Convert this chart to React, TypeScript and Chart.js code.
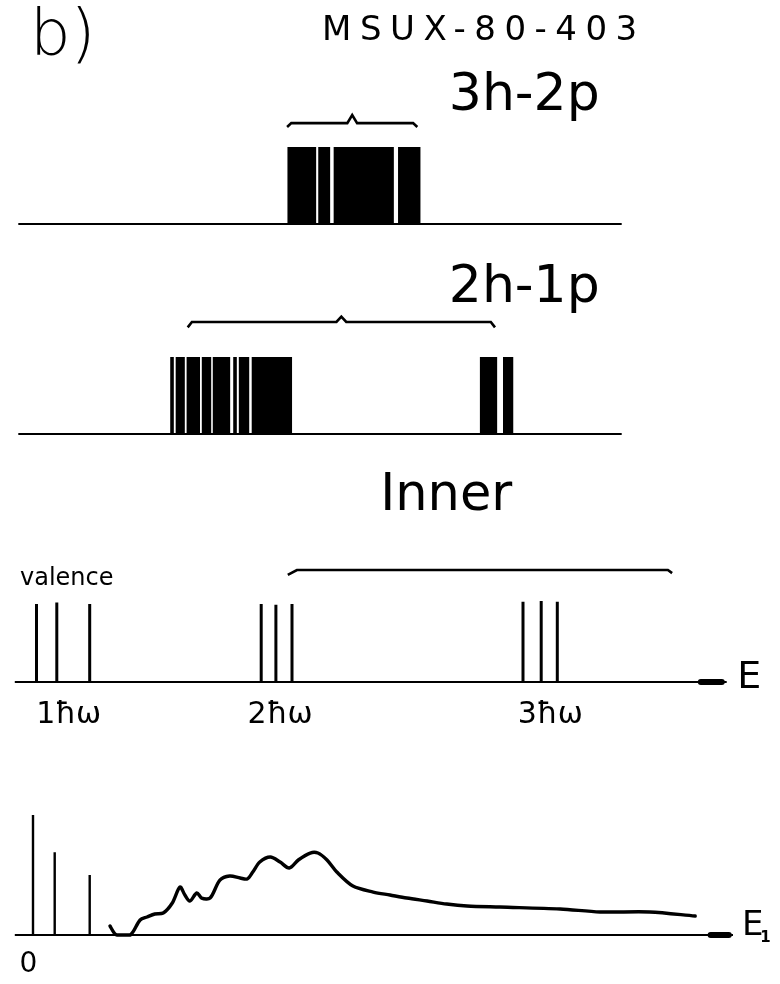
import React, { useEffect, useRef } from "react";
import { Chart, registerables } from "chart.js";

Chart.register(...registerables);

// Excitation energy in arbitrary units (0 = ground state, 100 = arrow tip of the E axis).
// Stick heights are relative strengths inside each panel (1 = full height of the panel).

// 3h-2p configurations
const threeHoleTwoParticle = [
  36.6, 36.95, 37.4, 37.75, 38.2, 38.5, 38.9, 39.35, 39.8, 40.2,
  41.0, 41.35, 41.8, 42.2,
  43.2, 43.55, 43.9, 44.3, 44.7, 45.1, 45.5, 45.85, 46.3, 46.7, 47.1, 47.4,
  47.8, 48.25, 48.6, 49.0, 49.4, 49.8, 50.2, 50.55, 50.95, 51.3,
  52.4, 52.75, 53.15, 53.6, 53.95, 54.35, 54.75, 55.1,
];

// 2h-1p configurations: low-lying group and high-lying group
const twoHoleOneParticleLow = [
  19.86, 20.64, 21.0, 21.43, 22.2, 22.6, 23.0, 23.4, 23.6, 24.37, 24.79, 25.2,
  25.94, 26.36, 26.79, 27.21, 27.64, 27.91, 28.86, 29.66, 30.07, 30.5, 30.63,
  31.5, 31.9, 32.3, 32.7, 33.1, 33.5, 33.9, 34.3, 34.7, 35.1, 35.5, 35.9,
  36.3, 36.75,
];
const twoHoleOneParticleHigh = [64.1, 64.5, 64.9, 65.3, 65.7, 66.05, 67.4, 67.75, 68.1, 68.35];

// Unperturbed valence and inner-shell (2ħω, 3ħω) states
const valenceStates = [0.5, 3.4, 8.1];
const valenceHeights = [1.0, 1.02, 1.0];
const twoHwStates = [32.6, 34.7, 37.0];
const twoHwHeights = [1.0, 0.99, 1.0];
const threeHwStates = [70.0, 72.6, 74.9];
const threeHwHeights = [1.03, 1.04, 1.03];
const shellLabels = ["1ħω", "2ħω", "3ħω"];
const shellLabelEnergies = [5.1, 35.3, 73.9];

// Resulting strength function: discrete low-lying lines plus the spread continuum
const discreteLines = [0, 3.1, 8.1];
const discreteStrengths = [1.0, 0.69, 0.5];
const continuumEnergy = [
  11.0, 11.6, 12.0, 13.9, 15.3, 16.3, 17.4, 18.6, 19.9, 21.0, 21.7, 22.4,
  23.4, 24.1, 25.3, 26.7, 28.1, 29.6, 30.6, 31.4, 32.4, 33.9, 35.3, 36.6,
  37.9, 39.6, 40.7, 42.0, 43.4, 45.7, 48.6, 51.0, 53.4, 56.3, 59.1, 62.0,
  66.7, 75.3, 81.0, 88.1, 94.6,
];
const continuumStrength = [
  0.075, 0.017, 0.0, 0.0, 0.125, 0.15, 0.175, 0.183, 0.267, 0.4, 0.333, 0.283,
  0.35, 0.308, 0.308, 0.458, 0.492, 0.475, 0.467, 0.525, 0.608, 0.65, 0.608,
  0.558, 0.625, 0.683, 0.683, 0.625, 0.525, 0.408, 0.358, 0.333, 0.308, 0.283,
  0.258, 0.242, 0.233, 0.217, 0.192, 0.192, 0.158,
];

const INK = "#000";
const FONT = '"DejaVu Sans", "Liberation Sans", sans-serif';

type Pt = { x: number; y: number | null };
type Label = {
  text: string;
  x: number;
  y: number;
  size: number;
  align?: CanvasTextAlign;
  weight?: number;
  spacing?: number;
};

const pt = (x: number, y: number | null): Pt => ({ x, y });

function sticks(energies: number[], heights: number[] | number): Pt[] {
  return energies.flatMap((e, i) => [
    pt(e, 0),
    pt(e, Array.isArray(heights) ? heights[i] : heights),
    pt(e, null),
  ]);
}

function brace(from: number, to: number, level: number, rise: number, drop: number): Pt[] {
  const mid = (from + to) / 2;
  return [
    pt(from, level - drop),
    pt(from + 0.6, level),
    pt(mid - 0.7, level),
    pt(mid, level + rise),
    pt(mid + 0.7, level),
    pt(to - 0.6, level),
    pt(to, level - drop),
  ];
}

function series(data: Pt[], width: number, extra: Record<string, unknown> = {}) {
  return {
    data,
    borderColor: INK,
    backgroundColor: INK,
    borderWidth: width,
    pointRadius: 0,
    pointHoverRadius: 0,
    clip: false,
    tension: 0,
    spanGaps: false,
    borderCapStyle: "butt",
    ...extra,
  };
}

function textPlugin(labels: Label[]) {
  return {
    id: "panelText",
    afterDatasetsDraw(chart: Chart) {
      const { ctx, scales } = chart;
      ctx.save();
      ctx.fillStyle = INK;
      ctx.textBaseline = "alphabetic";
      for (const l of labels) {
        ctx.font = `${l.weight ?? 400} ${l.size}px ${FONT}`;
        ctx.textAlign = l.align ?? "left";
        (ctx as any).letterSpacing = `${l.spacing ?? 0}px`;
        ctx.fillText(l.text, scales.x.getPixelForValue(l.x), scales.y.getPixelForValue(l.y));
      }
      ctx.restore();
    },
  };
}

type Panel = {
  top: number;
  height: number;
  padTop: number;
  padBottom: number;
  datasets: any[];
  labels: Label[];
};

const panels: Panel[] = [
  {
    top: 0,
    height: 240,
    padTop: 147,
    padBottom: 16,
    datasets: [
      series([pt(-2.1, 0), pt(84.1, 0)], 2),
      series(sticks(threeHoleTwoParticle, 1), 3.5),
      series(brace(36.3, 54.9, 1.31, 0.105, 0.05), 2.6),
    ],
    labels: [
      { text: "b)", x: -0.43, y: 2.195, size: 64, weight: 200 },
      { text: "MSUX-80-403", x: 41.3, y: 2.39, size: 34, spacing: 8.5 },
      { text: "3h-2p", x: 59.4, y: 1.48, size: 52 },
    ],
  },
  {
    top: 240,
    height: 220,
    padTop: 117,
    padBottom: 26,
    datasets: [
      series([pt(-2.1, 0), pt(84.1, 0)], 2),
      series(sticks(twoHoleOneParticleLow, 1), 3.6),
      series(sticks(twoHoleOneParticleHigh, 1), 3.6),
      series(brace(22.1, 66.0, 1.455, 0.07, 0.07), 2.6),
    ],
    labels: [{ text: "2h-1p", x: 59.4, y: 1.714, size: 52 }],
  },
  {
    top: 460,
    height: 280,
    padTop: 144,
    padBottom: 58,
    datasets: [
      series([pt(-2.6, 0), pt(99.1, 0)], 2),
      series([pt(95.4, 0), pt(98.4, 0)], 6, { borderCapStyle: "round" }),
      series(sticks(valenceStates, valenceHeights), 3),
      series(sticks(twoHwStates, twoHwHeights), 3),
      series(sticks(threeHwStates, threeHwHeights), 3),
      series(
        [pt(36.4, 1.372), pt(37.7, 1.436), pt(90.7, 1.436), pt(91.3, 1.396)],
        2.6
      ),
    ],
    labels: [
      { text: "Inner", x: 49.6, y: 2.205, size: 51 },
      { text: "valence", x: -1.86, y: 1.244, size: 24 },
      ...shellLabels.map((t, i) => ({
        text: t,
        x: shellLabelEnergies[i],
        y: -0.526,
        size: 30,
        align: "center" as CanvasTextAlign,
      })),
      { text: "E", x: 100.6, y: -0.077, size: 38 },
    ],
  },
  {
    top: 740,
    height: 244,
    padTop: 75,
    padBottom: 49,
    datasets: [
      series([pt(-2.6, 0), pt(100, 0)], 2),
      series([pt(96.8, 0), pt(99.4, 0)], 6, { borderCapStyle: "round" }),
      series(sticks(discreteLines, discreteStrengths), 2.4),
      series(
        continuumEnergy.map((e, i) => pt(e, continuumStrength[i])),
        3.4,
        { tension: 0.3, borderJoinStyle: "round", borderCapStyle: "round" }
      ),
    ],
    labels: [
      { text: "0", x: -0.64, y: -0.308, size: 28, align: "center" },
      { text: "E", x: 101.3, y: 0, size: 34 },
      { text: "1", x: 103.9, y: -0.058, size: 15, weight: 700 },
    ],
  },
];

export default function App() {
  const refs = useRef<(HTMLCanvasElement | null)[]>([]);

  useEffect(() => {
    const charts = panels.map((p, i) => {
      const canvas = refs.current[i]!;
      return new Chart(canvas, {
        type: "line",
        data: { datasets: p.datasets as any },
        options: {
          animation: false,
          responsive: false,
          devicePixelRatio: 1,
          events: [],
          layout: { padding: { left: 33, right: 47, top: p.padTop, bottom: p.padBottom } },
          plugins: { legend: { display: false }, tooltip: { enabled: false } },
          scales: {
            x: { type: "linear", min: 0, max: 100, display: false },
            y: { type: "linear", min: 0, max: 1, display: false },
          },
        },
        plugins: [textPlugin(p.labels)],
      });
    });
    return () => charts.forEach((c) => c.destroy());
  }, []);

  return (
    <div
      style={{
        position: "absolute",
        left: 0,
        top: 0,
        width: 780,
        height: 984,
        background: "#fff",
        overflow: "hidden",
      }}
    >
      {panels.map((p, i) => (
        <canvas
          key={i}
          ref={(el) => {
            refs.current[i] = el;
          }}
          width={780}
          height={p.height}
          style={{ position: "absolute", left: 0, top: p.top, width: 780, height: p.height }}
        />
      ))}
    </div>
  );
}
